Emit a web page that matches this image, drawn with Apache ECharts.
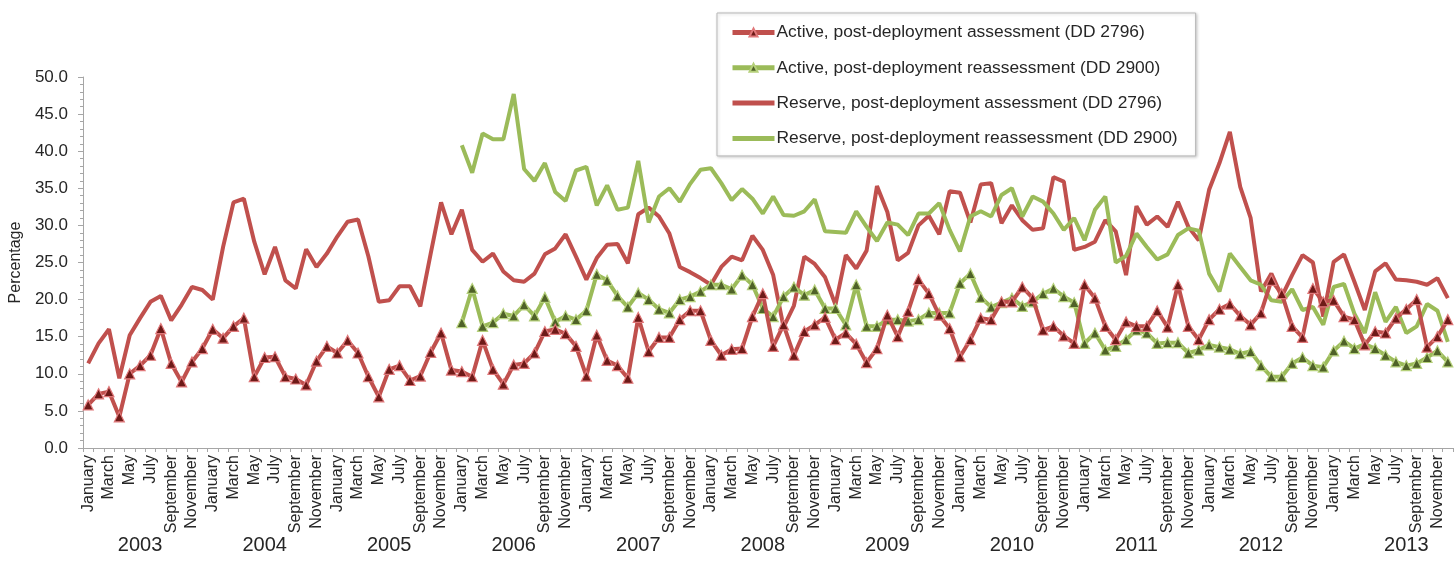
<!DOCTYPE html>
<html>
<head>
<meta charset="utf-8">
<script src="https://cdn.jsdelivr.net/npm/echarts@6/dist/echarts.min.js"></script>
<style>
html,body{margin:0;padding:0;background:#fff;}
#chart{width:1455px;height:580px;}
</style>
</head>
<body>
<div id="chart"></div>
<script>
// ---- data ----
var monthNames = ['January','February','March','April','May','June','July','August','September','October','November','December'];
var years = ['2003','2004','2005','2006','2007','2008','2009','2010','2011','2012','2013'];

var activeAssessment = [
  5.8, 7.3, 7.6, 4.2, 10.0, 11.1, 12.5, 16.1, 11.4, 8.9, 11.6, 13.4,
  16.0, 14.8, 16.4, 17.5, 9.6, 12.2, 12.3, 9.6, 9.3, 8.5, 11.7, 13.7,
  12.8, 14.5, 12.8, 9.6, 6.9, 10.6, 11.1, 9.1, 9.7, 12.9, 15.5, 10.5,
  10.3, 9.6, 14.5, 10.6, 8.6, 11.2, 11.4, 12.8, 15.7, 16.0, 15.4, 13.7,
  9.7, 15.2, 11.8, 11.1, 9.4, 17.6, 13.0, 14.9, 14.9, 17.3, 18.5, 18.5,
  14.5, 12.5, 13.3, 13.4, 17.7, 20.8, 13.7, 16.6, 12.5, 15.7, 16.6, 17.6,
  14.6, 15.5, 14.0, 11.5, 13.4, 17.9, 15.0, 18.4, 22.7, 20.8, 17.9, 16.1,
  12.3, 14.6, 17.5, 17.3, 19.7, 19.7, 21.7, 20.2, 15.9, 16.4, 15.1, 14.1,
  22.0, 20.2, 16.4, 14.6, 17.0, 16.4, 16.4, 18.5, 16.3, 22.0, 16.4, 14.6,
  17.3, 18.7, 19.4, 17.8, 16.6, 18.2, 22.6, 20.8, 16.4, 14.9, 21.5, 19.7,
  19.9, 17.7, 17.3, 13.9, 15.7, 15.5, 17.5, 18.7, 20.0, 13.6, 15.0, 17.3
];

var activeReassessment = [
  null, null, null, null, null, null, null, null, null, null, null, null,
  null, null, null, null, null, null, null, null, null, null, null, null,
  null, null, null, null, null, null, null, null, null, null, null, null,
  16.9, 21.5, 16.4, 16.9, 18.1, 17.8, 19.3, 17.8, 20.3, 17.0, 17.8, 17.3,
  18.5, 23.4, 22.6, 20.5, 19.0, 20.9, 20.0, 18.7, 18.2, 20.0, 20.4, 21.1,
  22.0, 22.0, 21.4, 23.3, 22.0, 18.8, 17.7, 20.4, 21.7, 20.6, 21.3, 18.8,
  18.8, 16.6, 22.0, 16.4, 16.4, 17.3, 17.3, 17.1, 17.3, 18.2, 18.2, 18.2,
  22.2, 23.5, 20.3, 19.0, 19.6, 20.2, 19.1, 19.7, 20.8, 21.5, 20.4, 19.6,
  14.1, 15.5, 13.2, 13.7, 14.6, 15.9, 15.5, 14.1, 14.2, 14.2, 12.8, 13.2,
  13.9, 13.6, 13.3, 12.7, 13.0, 11.1, 9.6, 9.6, 11.4, 12.2, 11.1, 10.9,
  13.1, 14.4, 13.4, 14.0, 13.4, 12.5, 11.6, 11.1, 11.4, 12.2, 13.1, 11.6
];

var reserveAssessment = [
  11.4, 14.1, 16.0, 9.4, 15.2, 17.5, 19.7, 20.5, 17.2, 19.3, 21.7, 21.3,
  20.0, 27.1, 33.1, 33.6, 27.8, 23.4, 27.1, 22.6, 21.5, 26.8, 24.4, 26.2,
  28.5, 30.5, 30.8, 25.8, 19.7, 19.9, 21.8, 21.8, 19.1, 26.2, 33.1, 28.8,
  32.1, 26.7, 25.1, 26.2, 23.8, 22.6, 22.4, 23.5, 26.1, 26.9, 28.8, 25.8,
  22.7, 25.6, 27.4, 27.5, 24.9, 31.5, 32.4, 31.2, 28.9, 24.4, 23.7, 22.9,
  22.0, 24.4, 25.8, 25.3, 28.6, 26.7, 23.3, 16.3, 19.2, 25.8, 24.8, 23.0,
  19.3, 26.0, 24.2, 26.6, 35.3, 31.8, 25.3, 26.3, 30.0, 31.3, 28.8, 34.6,
  34.4, 30.4, 35.5, 35.7, 30.3, 32.7, 30.7, 29.4, 29.6, 36.5, 35.9, 26.7,
  27.1, 27.8, 30.7, 29.2, 23.3, 32.6, 30.1, 31.2, 29.8, 33.2, 29.8, 28.0,
  34.8, 38.4, 42.6, 35.2, 31.0, 21.1, 23.5, 20.4, 23.3, 26.0, 25.0, 17.7,
  25.1, 26.1, 22.4, 18.6, 23.8, 24.9, 22.7, 22.6, 22.4, 22.0, 22.9, 20.2
];

var reserveReassessment = [
  null, null, null, null, null, null, null, null, null, null, null, null,
  null, null, null, null, null, null, null, null, null, null, null, null,
  null, null, null, null, null, null, null, null, null, null, null, null,
  40.8, 37.1, 42.4, 41.6, 41.6, 47.7, 37.6, 36.0, 38.4, 34.5, 33.3, 37.4,
  37.9, 32.7, 35.4, 32.1, 32.4, 38.7, 30.4, 33.9, 35.0, 33.2, 35.6, 37.5,
  37.7, 35.7, 33.4, 34.9, 33.6, 31.6, 33.9, 31.4, 31.3, 31.9, 33.5, 29.2,
  29.1, 29.0, 31.9, 29.8, 27.9, 30.4, 30.1, 28.7, 31.6, 31.6, 33.0, 29.4,
  26.5, 31.2, 31.9, 31.2, 34.1, 35.0, 31.2, 33.9, 33.2, 31.6, 29.4, 31.0,
  28.0, 32.1, 33.9, 25.0, 25.9, 28.9, 27.1, 25.4, 26.1, 28.7, 29.6, 29.3,
  23.5, 21.1, 26.2, 24.4, 22.6, 22.0, 19.9, 19.7, 21.4, 18.6, 19.0, 16.6,
  21.7, 22.1, 18.1, 15.5, 21.0, 17.0, 19.0, 15.5, 16.4, 19.4, 18.5, 14.3
];

var seriesNames = [
  'Active, post-deployment assessment (DD 2796)',
  'Active, post-deployment reassessment (DD 2900)',
  'Reserve, post-deployment assessment (DD 2796)',
  'Reserve, post-deployment reassessment (DD 2900)'
];

// ---- build categories ----
var monthCats = [];
var yearCats = [];
years.forEach(function (y) {
  monthNames.forEach(function (m) {
    monthCats.push(m);
    yearCats.push(y);
  });
});
var lastYearStart = (years.length - 1) * 12;

var RED = '#c0504d', GREEN = '#9bbb59';
var FONT = '"Liberation Sans", Arial, sans-serif';
var TXT = '#262626';
var AXIS = '#a6a6a6';

var chart = echarts.init(document.getElementById('chart'), null, {renderer: 'canvas'});

function lineSeries(name, data, color, withMarker, fill, border, z) {
  return {
    name: name,
    type: 'line',
    data: data,
    xAxisIndex: 0,
    connectNulls: false,
    symbol: withMarker ? 'triangle' : 'none',
    showSymbol: withMarker,
    showAllSymbol: true,
    symbolSize: 10,
    z: z,
    lineStyle: {color: color, width: 4},
    itemStyle: {color: fill, borderColor: border, borderWidth: 1.2},
    emphasis: {disabled: true},
    animation: false
  };
}

chart.setOption({
  backgroundColor: '#ffffff',
  animation: false,
  textStyle: {fontFamily: FONT, color: TXT},
  grid: {left: 83, right: 2, top: 77, bottom: 132, containLabel: false, outerBoundsMode: 'none'},
  legend: {
    orient: 'vertical',
    left: 717,
    top: 13,
    padding: [11, 18, 9, 13],
    itemWidth: 42,
    itemHeight: 10,
    itemGap: 18.3,
    borderColor: '#b8b8b8',
    borderWidth: 1,
    backgroundColor: '#ffffff',
    shadowColor: 'rgba(0,0,0,0.18)',
    shadowBlur: 3,
    shadowOffsetX: 1,
    shadowOffsetY: 1,
    lineStyle: {width: 5},
    textStyle: {fontFamily: FONT, fontSize: 17.4, color: TXT, padding: [0, 0, 0, -3]},
    data: [
      {name: seriesNames[0]},
      {name: seriesNames[1]},
      {name: seriesNames[2], itemStyle: {opacity: 0}},
      {name: seriesNames[3], itemStyle: {opacity: 0}}
    ]
  },
  xAxis: [
    {
      type: 'category',
      data: monthCats,
      boundaryGap: true,
      axisLine: {show: true, lineStyle: {color: AXIS, width: 1}},
      axisTick: {show: true, interval: 0, length: 4, lineStyle: {color: AXIS}},
      axisLabel: {
        interval: 1,
        rotate: 90,
        margin: 7,
        fontSize: 16,
        fontFamily: FONT,
        color: TXT
      },
      splitLine: {show: false}
    },
    {
      type: 'category',
      data: yearCats,
      position: 'bottom',
      boundaryGap: true,
      axisLine: {show: false},
      axisTick: {show: false},
      axisLabel: {
        interval: function (idx) {
          return idx >= lastYearStart ? idx === lastYearStart + 7 : idx % 12 === 5;
        },
        margin: 87,
        fontSize: 20,
        fontFamily: FONT,
        color: TXT
      },
      splitLine: {show: false}
    }
  ],
  yAxis: {
    type: 'value',
    min: 0,
    max: 50,
    interval: 5,
    name: 'Percentage',
    nameLocation: 'middle',
    nameGap: 57,
    nameRotate: 90,
    nameTextStyle: {fontFamily: FONT, fontSize: 16, color: TXT},
    axisLine: {show: true, lineStyle: {color: AXIS, width: 1}},
    axisTick: {show: true, length: 5, lineStyle: {color: AXIS}},
    minorTick: {show: true, splitNumber: 5, length: 3, lineStyle: {color: AXIS}},
    axisLabel: {
      fontSize: 17,
      fontFamily: FONT,
      color: TXT,
      margin: 15,
      formatter: function (v) { return v.toFixed(1); }
    },
    splitLine: {show: false}
  },
  series: [
    lineSeries(seriesNames[2], reserveAssessment, RED, false, RED, RED, 2),
    lineSeries(seriesNames[3], reserveReassessment, GREEN, false, GREEN, GREEN, 2),
    lineSeries(seriesNames[1], activeReassessment, GREEN, true, '#4f6228', '#b5d07a', 3),
    lineSeries(seriesNames[0], activeAssessment, RED, true, '#6e1a18', '#e0787a', 4)
  ]
});
</script>
</body>
</html>
